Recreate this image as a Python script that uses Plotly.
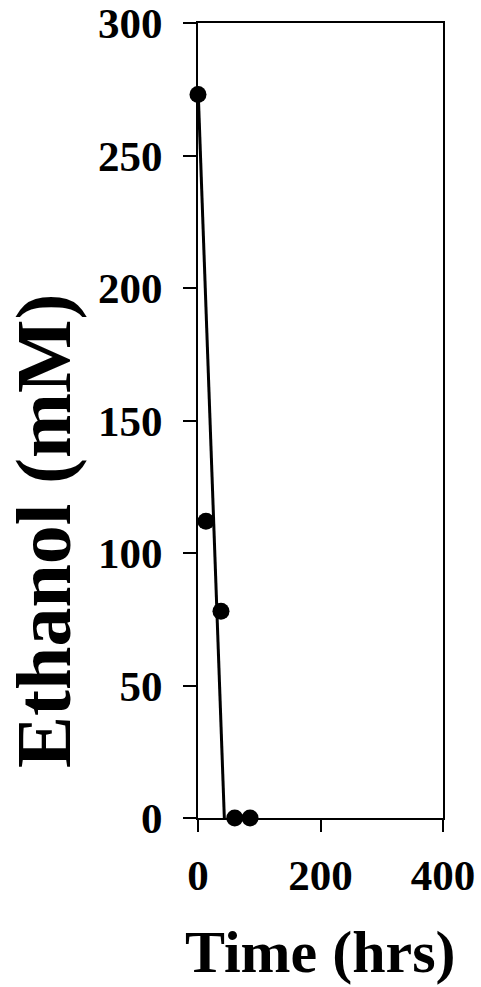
import plotly.graph_objects as go

time_hrs = [0, 13, 37.5, 60, 85]
ethanol_mM = [273, 112, 78, 0, 0]
fit_time = [0, 43]
fit_ethanol = [276, 0]
x_ticks = [0, 200, 400]
y_ticks = [0, 50, 100, 150, 200, 250, 300]

FONT = "Liberation Serif"

fig = go.Figure()
fig.add_trace(go.Scatter(x=fit_time, y=fit_ethanol, mode="lines",
                         line=dict(color="black", width=3), cliponaxis=False,
                         showlegend=False))
fig.add_trace(go.Scatter(x=time_hrs, y=ethanol_mM, mode="markers",
                         marker=dict(color="black", size=17), cliponaxis=False,
                         showlegend=False))

fig.update_layout(
    width=481, height=987,
    margin=dict(l=198, r=38, t=23, b=169),
    paper_bgcolor="white", plot_bgcolor="white",
    font=dict(family=FONT, color="black"),
    xaxis=dict(range=[0, 400], tickvals=x_ticks, ticks="outside", ticklen=12,
               tickwidth=2, tickcolor="black", showline=True, linewidth=2,
               linecolor="black", mirror=True, showgrid=False, zeroline=False,
               automargin=False,
               tickfont=dict(family=FONT, size=43, color="black", weight="bold"),
               ticklabelstandoff=6),
    yaxis=dict(range=[0, 300], tickvals=y_ticks, ticks="outside", ticklen=13,
               tickwidth=2, tickcolor="black", showline=True, linewidth=2,
               linecolor="black", mirror=True, showgrid=False, zeroline=False,
               automargin=False,
               tickfont=dict(family=FONT, size=43, color="black", weight="bold"),
               ticklabelstandoff=12),
    annotations=[
        dict(text="<b>Ethanol (mM)</b>", xref="paper", yref="paper",
             x=-0.633, y=0.361, xanchor="center", yanchor="middle",
             textangle=-90, showarrow=False,
             font=dict(family=FONT, size=78, color="black")),
        dict(text="<b>Time (hrs)</b>", xref="paper", yref="paper",
             x=0.498, y=-0.1686, xanchor="center", yanchor="middle",
             showarrow=False,
             font=dict(family=FONT, size=60, color="black")),
    ],
)

fig.write_html("out.html")
